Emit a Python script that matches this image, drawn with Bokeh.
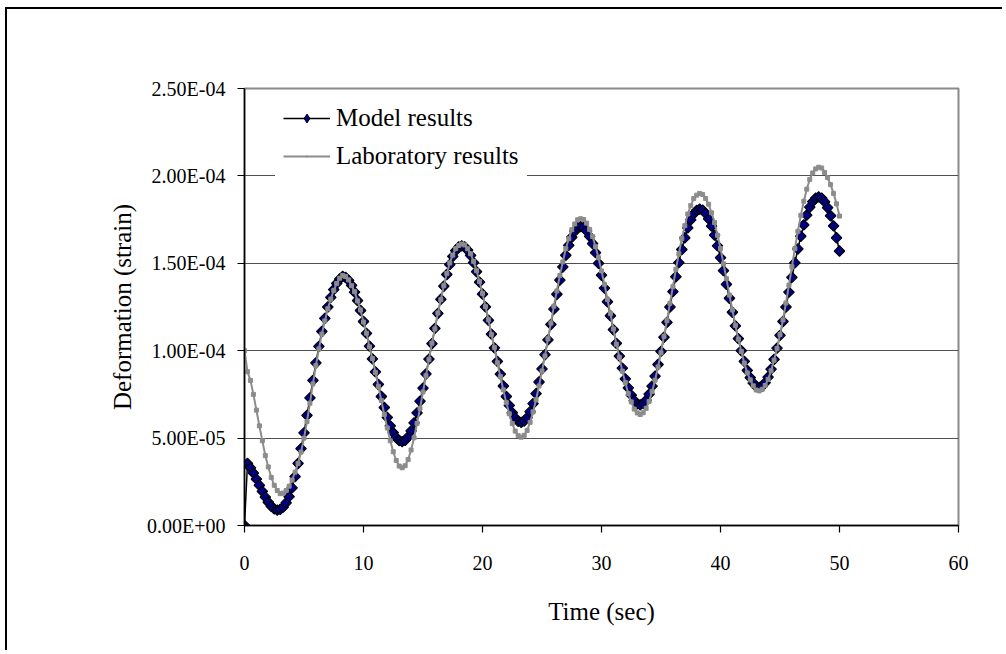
from bokeh.plotting import figure
from bokeh.models import (Range1d, FixedTicker, CustomJSTickFormatter, Legend,
                          LegendItem, InlineStyleSheet, ColumnDataSource, CDSView, IndexFilter)
from bokeh.embed import file_html
from bokeh.resources import INLINE

# ---------------- data (strain values in units of 1E-05) ----------------
time_step_s = 0.25
strain_unit = 1e-5

model_e5 = [
    0.0, 3.55, 3.3, 3.0, 2.65, 2.3, 1.95, 1.62, 1.33, 1.1, 0.95, 0.88, 0.92, 1.05, 1.3, 1.65,
    2.15, 2.8, 3.55, 4.4, 5.3, 6.3, 7.3, 8.3, 9.3, 10.25, 11.1, 11.85, 12.5, 13.05, 13.5, 13.85,
    14.1, 14.25,
    14.19, 14.02, 13.74, 13.35, 12.87, 12.30, 11.67, 10.99, 10.26, 9.53, 8.79, 8.07, 7.38, 6.75,
    6.18, 5.70, 5.31, 5.03, 4.86, 4.80,
    4.87, 5.07, 5.41, 5.87, 6.44, 7.11, 7.86, 8.67, 9.52, 10.40, 11.28, 12.13, 12.94, 13.69,
    14.36, 14.93, 15.39, 15.73, 15.93, 16.00,
    15.94, 15.75, 15.45, 15.04, 14.52, 13.92, 13.24, 12.51, 11.74, 10.95, 10.16, 9.39, 8.66, 7.98,
    7.38, 6.87, 6.45, 6.15, 5.96, 5.90,
    5.97, 6.17, 6.51, 6.97, 7.54, 8.21, 8.96, 9.77, 10.62, 11.50, 12.38, 13.23, 14.04, 14.79,
    15.46, 16.03, 16.49, 16.83, 17.03, 17.10,
    17.04, 16.85, 16.54, 16.13, 15.61, 15.00, 14.32, 13.58, 12.80, 12.00, 11.20, 10.42, 9.69, 9.00,
    8.39, 7.87, 7.46, 7.15, 6.96, 6.90,
    6.97, 7.17, 7.51, 7.97, 8.54, 9.21, 9.96, 10.77, 11.62, 12.50, 13.38, 14.23, 15.04, 15.79,
    16.46, 17.03, 17.49, 17.83, 18.03, 18.10,
    18.04, 17.85, 17.54, 17.13, 16.61, 16.00, 15.32, 14.58, 13.80, 13.00, 12.20, 11.42, 10.69, 10.00,
    9.39, 8.87, 8.46, 8.15, 7.96, 7.90,
    7.97, 8.17, 8.49, 8.94, 9.50, 10.15, 10.88, 11.67, 12.50, 13.35, 14.20, 15.03, 15.82, 16.55,
    17.20, 17.76, 18.21, 18.53, 18.73, 18.80,
    18.73, 18.52, 18.18, 17.72, 17.14, 16.46, 15.70,
]

lab_e5 = [
    10.0, 8.8, 8.3, 7.5, 6.6, 5.7, 4.85, 4.0, 3.35, 2.75, 2.3, 2.0, 1.82, 1.85, 2.0, 2.25,
    2.6, 3.05, 3.55, 4.2, 5.0, 5.95, 7.0, 8.1, 9.15, 10.1, 10.95, 11.7, 12.4, 12.95, 13.45, 13.85,
    14.15, 14.3,
    14.24, 14.05, 13.72, 13.38, 12.85, 12.33, 11.64, 11.0, 10.22, 9.55, 8.76, 7.96, 7.15, 6.35,
    5.58, 4.85, 4.22, 3.72, 3.40, 3.30,
    3.42, 3.77, 4.32, 5.02, 5.84, 6.70, 7.64, 8.57, 9.50, 10.43, 11.25, 12.16, 12.92, 13.72,
    14.42, 15.02, 15.47, 15.84, 16.02, 16.10,
    16.05, 15.83, 15.55, 15.11, 14.58, 13.96, 13.28, 12.52, 11.77, 10.93, 10.18, 9.31, 8.52, 7.76,
    7.03, 6.39, 5.83, 5.40, 5.14, 5.05,
    5.16, 5.44, 5.90, 6.50, 7.19, 7.98, 8.84, 9.70, 10.68, 11.58, 12.55, 13.42, 14.30, 15.08,
    15.83, 16.40, 16.92, 17.25, 17.49, 17.55,
    17.50, 17.30, 16.94, 16.53, 15.95, 15.32, 14.56, 13.80, 12.93, 12.12, 11.24, 10.37, 9.62, 8.83,
    8.18, 7.55, 7.07, 6.66, 6.44, 6.35,
    6.45, 6.70, 7.10, 7.67, 8.31, 9.07, 9.88, 10.82, 11.72, 12.71, 13.66, 14.65, 15.54, 16.42,
    17.15, 17.82, 18.30, 18.70, 18.90, 19.00,
    18.94, 18.70, 18.38, 17.89, 17.33, 16.60, 15.85, 14.97, 14.12, 13.18, 12.33, 11.45, 10.66, 9.96,
    9.29, 8.73, 8.33, 7.99, 7.75, 7.70,
    7.79, 8.01, 8.36, 8.85, 9.46, 10.12, 10.93, 11.76, 12.73, 13.75, 14.80, 15.84, 16.83, 17.74,
    18.55, 19.24, 19.80, 20.17, 20.40, 20.50,
    20.45, 20.2, 19.9, 19.5, 19.0, 18.4, 17.7,
]

series_names = ["Model results", "Laboratory results"]
x_ticks = [0, 10, 20, 30, 40, 50, 60]
y_ticks = [0.0, 5e-5, 1e-4, 1.5e-4, 2e-4, 2.5e-4]
x_title = "Time (sec)"
y_title = "Deformation (strain)"

time_s = [i * time_step_s for i in range(len(model_e5))]
model = [v * strain_unit for v in model_e5]
lab = [v * strain_unit for v in lab_e5]

src_model = ColumnDataSource(dict(t=time_s, y=model))
src_lab = ColumnDataSource(dict(t=time_s[:len(lab)], y=lab))

# ---------------- figure ----------------
FONT = "Liberation Serif"
W, H = 997, 643

p = figure(width=W, height=H, output_backend="svg", toolbar_location=None,
           x_range=Range1d(x_ticks[0], x_ticks[-1]), y_range=Range1d(y_ticks[0], y_ticks[-1]),
           min_border_left=237, min_border_right=46, min_border_top=79, min_border_bottom=127)
p.stylesheets = [InlineStyleSheet(css=":host { border-left: 2px solid #000; border-top: 2px solid #000; margin-left: 5px; margin-top: 7px; }")]

p.background_fill_color = "white"
p.border_fill_color = "white"
p.outline_line_color = "#8a8a8a"
p.outline_line_width = 2

p.xgrid.visible = False
p.ygrid.grid_line_color = "#505050"
p.ygrid.grid_line_width = 1.2

p.xaxis.ticker = FixedTicker(ticks=x_ticks)
p.yaxis.ticker = FixedTicker(ticks=y_ticks)
p.yaxis.formatter = CustomJSTickFormatter(code="""
const s = tick.toExponential(2).toUpperCase();
const parts = s.split("E");
let e = parseInt(parts[1]);
const sign = e < 0 ? "-" : "+";
e = Math.abs(e);
return parts[0] + "E" + sign + (e < 10 ? "0" + e : "" + e);
""")

for ax in (p.xaxis[0], p.yaxis[0]):
    ax.axis_line_color = "black"
    ax.axis_line_width = 1.5
    ax.major_tick_line_color = "black"
    ax.major_tick_line_width = 1.2
    ax.major_tick_out = 7
    ax.major_tick_in = 0
    ax.minor_tick_line_color = None
    ax.major_label_text_font = FONT
    ax.major_label_text_font_size = "20px"
    ax.major_label_text_color = "black"
    ax.axis_label_text_font = FONT
    ax.axis_label_text_font_size = "25px"
    ax.axis_label_text_font_style = "normal"
    ax.axis_label_text_color = "black"

p.xaxis.axis_label = x_title
p.yaxis.axis_label = y_title
p.xaxis.major_label_standoff = 23
p.xaxis.axis_label_standoff = 25
p.yaxis.major_label_standoff = 12
p.yaxis.axis_label_standoff = 8

# ---------------- series ----------------
m_line = p.line("t", "y", source=src_model, line_color="black", line_width=1.5)
m_pts = p.scatter("t", "y", source=src_model, marker="square", angle=0.785398, size=7.5,
                  fill_color="#000080", line_color="black", line_width=1.1)

l_line = p.line("t", "y", source=src_lab, line_color="#8c8c8c", line_width=2)
l_pts = p.scatter("t", "y", source=src_lab, marker="square", size=4,
                  fill_color="#8c8c8c", line_color="#8c8c8c", line_width=1)

# first point of each series drawn again with the swatch marker used in the legend
m_key = p.scatter("t", "y", source=src_model, view=CDSView(filter=IndexFilter([0])),
                  marker="diamond", size=9, fill_color="#000080", line_color="black", line_width=1)
l_key = p.scatter("t", "y", source=src_lab, view=CDSView(filter=IndexFilter([0])),
                  marker="dot", size=12, line_color="#8c8c8c", fill_color="#8c8c8c")

legend = Legend(items=[LegendItem(label=series_names[0], renderers=[m_line, m_key]),
                       LegendItem(label=series_names[1], renderers=[l_line, l_key])],
                location=(31, 347), margin=0, padding=8, spacing=10,
                glyph_width=47, glyph_height=22, label_height=28, label_standoff=6,
                label_text_font=FONT, label_text_font_size="25px", label_text_color="black",
                background_fill_color="white", background_fill_alpha=1.0,
                border_line_alpha=0)
p.add_layout(legend)

open("out.html", "w").write(file_html(p, INLINE))
